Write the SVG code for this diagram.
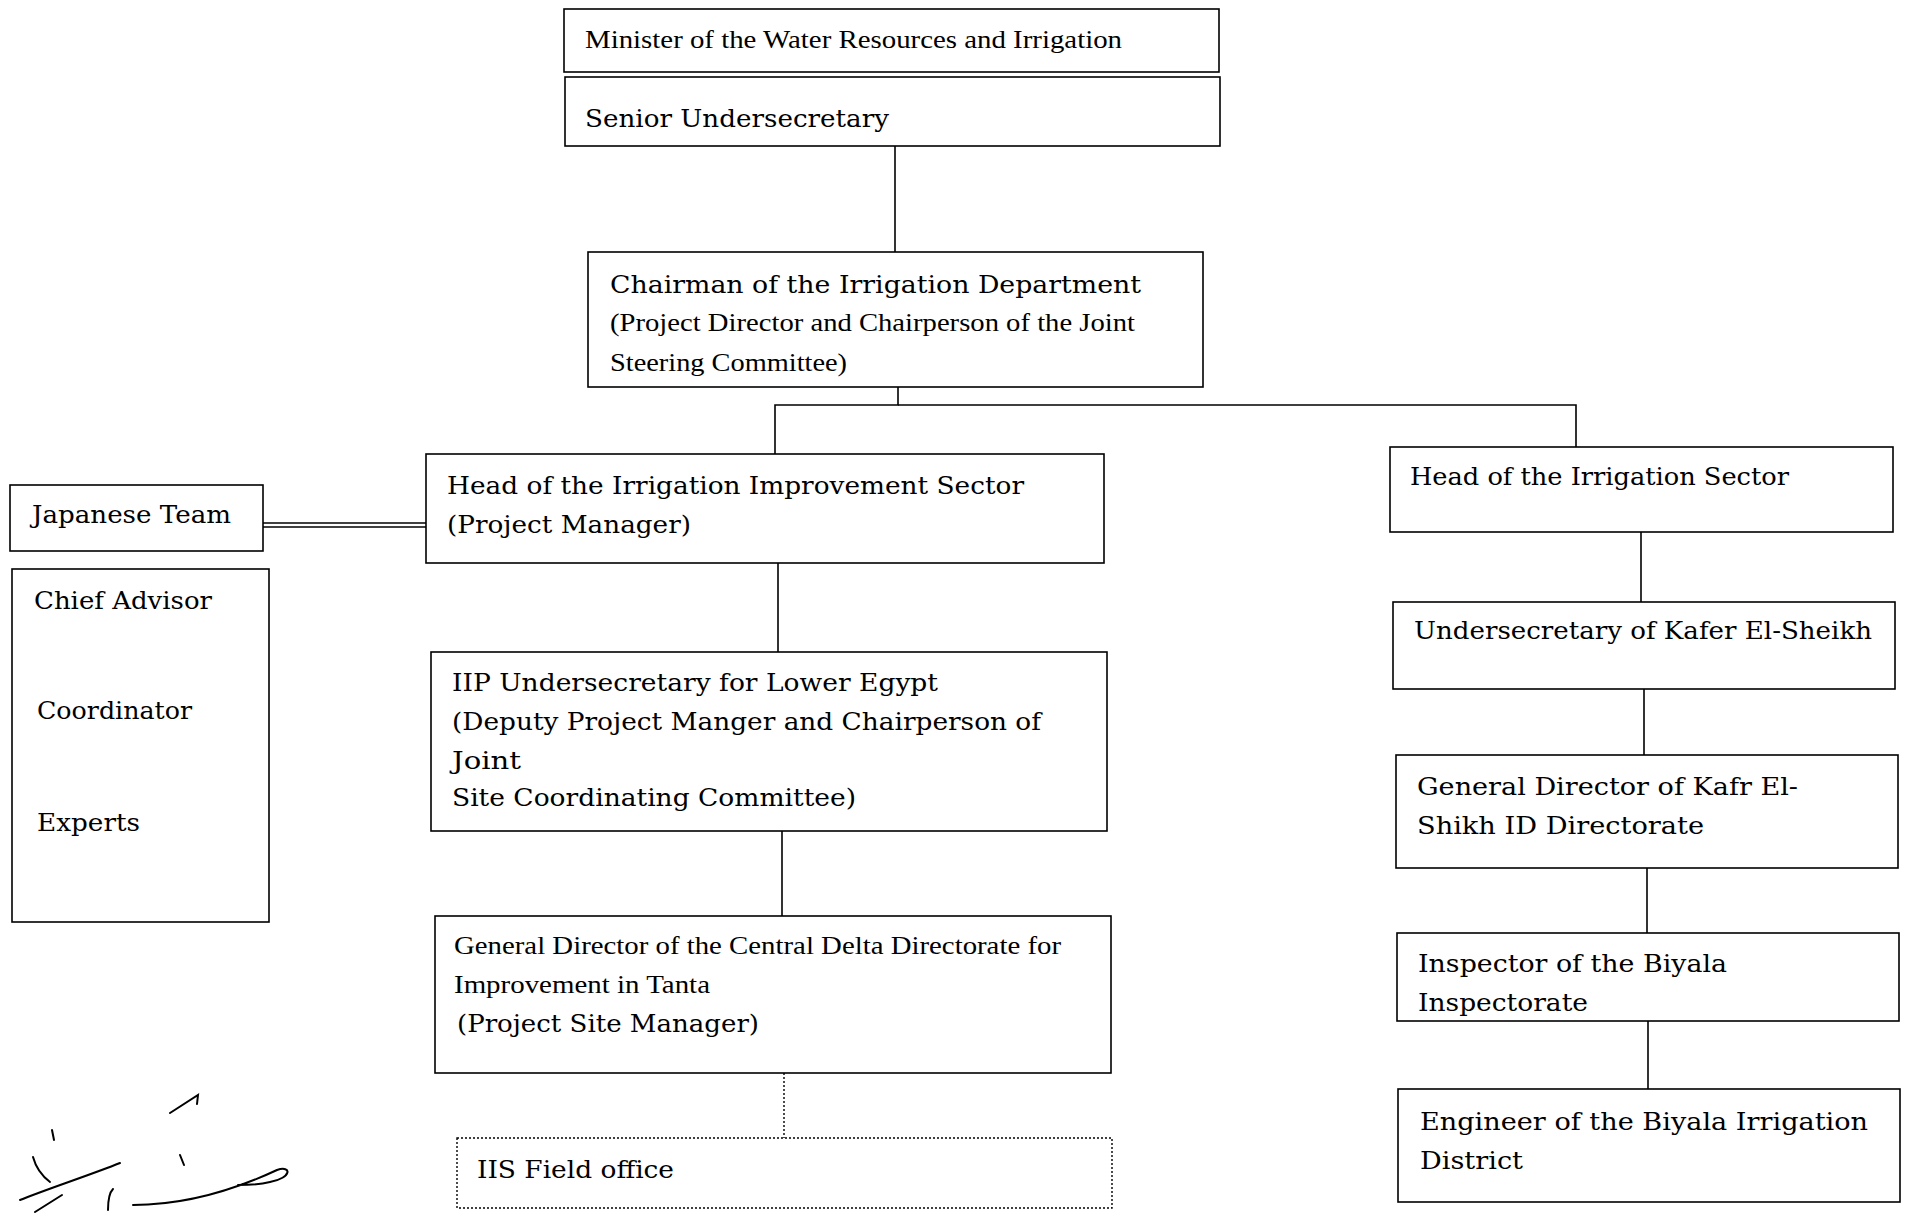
<svg xmlns="http://www.w3.org/2000/svg" width="1910" height="1215" viewBox="0 0 1910 1215">
<style>
.box{fill:#fff;stroke:#000;stroke-width:1.6}
.dot{fill:#fff;stroke:#000;stroke-width:1.4;stroke-dasharray:2 2}
.ln{fill:none;stroke:#000;stroke-width:1.6}
.dl{fill:none;stroke:#000;stroke-width:1.4;stroke-dasharray:2 2}
.w{font-family:"DejaVu Serif","Liberation Serif",serif;font-size:25px;fill:#000}
.n{font-family:"Liberation Serif","Times New Roman",serif;font-size:26px;fill:#000}
.sig{fill:none;stroke:#000;stroke-width:2;stroke-linecap:round}
</style>
<rect width="1910" height="1215" fill="#fff"/>
<g id="connectors">
<line class="ln" x1="895" y1="146" x2="895" y2="252"/>
<polyline class="ln" points="898,387 898,405 775,405 775,454"/>
<polyline class="ln" points="898,405 1576,405 1576,447"/>
<line class="ln" x1="263" y1="523" x2="426" y2="523"/>
<line class="ln" x1="263" y1="527" x2="426" y2="527"/>
<line class="ln" x1="778" y1="563" x2="778" y2="652"/>
<line class="ln" x1="782" y1="831" x2="782" y2="916"/>
<line class="dl" x1="784" y1="1073" x2="784" y2="1138"/>
<line class="ln" x1="1641" y1="532" x2="1641" y2="602"/>
<line class="ln" x1="1644" y1="689" x2="1644" y2="755"/>
<line class="ln" x1="1647" y1="868" x2="1647" y2="933"/>
<line class="ln" x1="1648" y1="1021" x2="1648" y2="1089"/>
</g>
<g id="minister">
<rect class="box" x="564" y="9" width="655" height="63"/>
<text class="n" x="585" y="48" textLength="537" lengthAdjust="spacingAndGlyphs">Minister of the Water Resources and Irrigation</text>
</g>
<g id="senior">
<rect class="box" x="565" y="77" width="655" height="69"/>
<text class="w" x="585" y="127" textLength="304" lengthAdjust="spacingAndGlyphs">Senior Undersecretary</text>
</g>
<g id="chairman">
<rect class="box" x="588" y="252" width="615" height="135"/>
<text class="w" x="610" y="293" textLength="531" lengthAdjust="spacingAndGlyphs">Chairman of the Irrigation Department</text>
<text class="n" x="610" y="331" textLength="525" lengthAdjust="spacingAndGlyphs">(Project Director and Chairperson of the Joint</text>
<text class="n" x="610" y="371" textLength="237" lengthAdjust="spacingAndGlyphs">Steering Committee)</text>
</g>
<g id="head-iis">
<rect class="box" x="426" y="454" width="678" height="109"/>
<text class="w" x="447" y="494" textLength="577" lengthAdjust="spacingAndGlyphs">Head of the Irrigation Improvement Sector</text>
<text class="w" x="447" y="533" textLength="244" lengthAdjust="spacingAndGlyphs">(Project Manager)</text>
</g>
<g id="japanese-team">
<rect class="box" x="10" y="485" width="253" height="66"/>
<text class="w" x="32" y="523" textLength="199" lengthAdjust="spacingAndGlyphs">Japanese Team</text>
</g>
<g id="team-members">
<rect class="box" x="12" y="569" width="257" height="353"/>
<text class="w" x="34" y="609" textLength="178" lengthAdjust="spacingAndGlyphs">Chief Advisor</text>
<text class="w" x="37" y="719" textLength="155" lengthAdjust="spacingAndGlyphs">Coordinator</text>
<text class="w" x="37" y="831" textLength="103" lengthAdjust="spacingAndGlyphs">Experts</text>
</g>
<g id="iip">
<rect class="box" x="431" y="652" width="676" height="179"/>
<text class="w" x="452" y="691" textLength="486" lengthAdjust="spacingAndGlyphs">IIP Undersecretary for Lower Egypt</text>
<text class="w" x="452" y="730" textLength="589" lengthAdjust="spacingAndGlyphs">(Deputy Project Manger and Chairperson of</text>
<text class="w" x="452" y="769" textLength="69" lengthAdjust="spacingAndGlyphs">Joint</text>
<text class="w" x="452" y="806" textLength="404" lengthAdjust="spacingAndGlyphs">Site Coordinating Committee)</text>
</g>
<g id="gd-central">
<rect class="box" x="435" y="916" width="676" height="157"/>
<text class="n" x="454" y="954" textLength="607" lengthAdjust="spacingAndGlyphs">General Director of the Central Delta Directorate for</text>
<text class="n" x="454" y="993" textLength="256" lengthAdjust="spacingAndGlyphs">Improvement in Tanta</text>
<text class="w" x="457" y="1032" textLength="302" lengthAdjust="spacingAndGlyphs">(Project Site Manager)</text>
</g>
<g id="field-office">
<rect class="dot" x="457" y="1138" width="655" height="70"/>
<text class="w" x="477" y="1178" textLength="197" lengthAdjust="spacingAndGlyphs">IIS Field office</text>
</g>
<g id="head-is">
<rect class="box" x="1390" y="447" width="503" height="85"/>
<text class="w" x="1410" y="485" textLength="379" lengthAdjust="spacingAndGlyphs">Head of the Irrigation Sector</text>
</g>
<g id="undersec-kafer">
<rect class="box" x="1393" y="602" width="502" height="87"/>
<text class="w" x="1414" y="639" textLength="458" lengthAdjust="spacingAndGlyphs">Undersecretary of Kafer El-Sheikh</text>
</g>
<g id="gd-kafr">
<rect class="box" x="1396" y="755" width="502" height="113"/>
<text class="w" x="1417" y="795" textLength="381" lengthAdjust="spacingAndGlyphs">General Director of Kafr El-</text>
<text class="w" x="1417" y="834" textLength="287" lengthAdjust="spacingAndGlyphs">Shikh ID Directorate</text>
</g>
<g id="inspector">
<rect class="box" x="1397" y="933" width="502" height="88"/>
<text class="w" x="1418" y="972" textLength="309" lengthAdjust="spacingAndGlyphs">Inspector of the Biyala</text>
<text class="w" x="1418" y="1011" textLength="170" lengthAdjust="spacingAndGlyphs">Inspectorate</text>
</g>
<g id="engineer">
<rect class="box" x="1398" y="1089" width="502" height="113"/>
<text class="w" x="1420" y="1130" textLength="448" lengthAdjust="spacingAndGlyphs">Engineer of the Biyala Irrigation</text>
<text class="w" x="1420" y="1169" textLength="103" lengthAdjust="spacingAndGlyphs">District</text>
</g>
<g id="signature">
<path class="sig" d="M20,1200 C50,1188 90,1175 120,1163"/>
<path class="sig" d="M33,1157 C36,1168 42,1176 50,1182"/>
<path class="sig" d="M35,1212 L62,1195"/>
<path class="sig" d="M133,1205 C180,1205 230,1192 277,1170 C292,1165 292,1178 270,1182 C258,1185 245,1185 238,1185"/>
<path class="sig" d="M108,1210 C108,1200 110,1192 113,1189"/>
<path class="sig" d="M170,1113 L198,1095 L197,1104"/>
<path class="sig" d="M180,1155 L184,1165"/>
<path class="sig" d="M52,1130 L54,1140"/>
</g>
</svg>
